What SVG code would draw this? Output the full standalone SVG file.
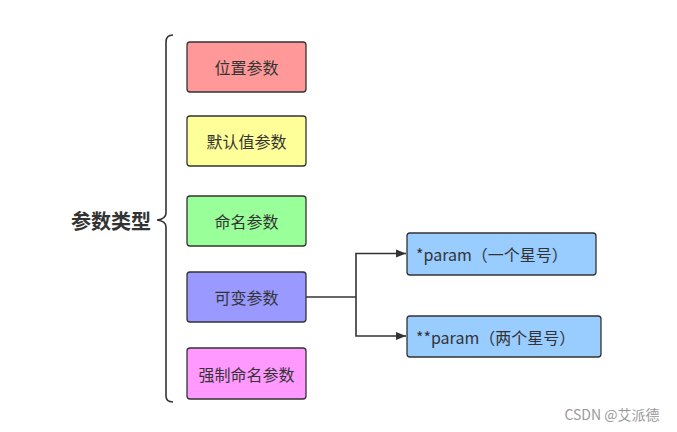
<svg xmlns="http://www.w3.org/2000/svg" width="677" height="432" viewBox="0 0 677 432">
<style>
.box{stroke:#333;stroke-width:1.3}
.t{font-family:"Noto Sans CJK SC","Liberation Sans",sans-serif;font-size:16px;fill:#333;dominant-baseline:central}
.c{text-anchor:middle}
.line{fill:none;stroke:#333;stroke-width:1.6}
</style>
<defs>
<marker id="ah" viewBox="0 0 10 10" refX="10" refY="5" markerWidth="10" markerHeight="10" markerUnits="userSpaceOnUse" orient="auto">
<path d="M0,1 L10,5 L0,9 Z" fill="#333"/>
</marker>
</defs>
<rect width="677" height="432" fill="#fff"/>
<g id="root">
<text x="111" y="220" class="t c" style="font-size:20px;font-weight:bold">参数类型</text>
<path class="line" d="M173,35 Q166,35 166,42 L166,213 Q166,219 157,220 Q166,221 166,227 L166,396 Q166,402 173,402" stroke-width="1.8"/>
</g>
<g id="n1"><rect class="box" x="187" y="42" width="119" height="50" rx="3" fill="#FF9999"/><text class="t c" x="246.5" y="67">位置参数</text></g>
<g id="n2"><rect class="box" x="187" y="116" width="119" height="50" rx="3" fill="#FFFF99"/><text class="t c" x="246.5" y="141">默认值参数</text></g>
<g id="n3"><rect class="box" x="187" y="196" width="119" height="50" rx="3" fill="#99FF99"/><text class="t c" x="246.5" y="221">命名参数</text></g>
<g id="n4"><rect class="box" x="187" y="272" width="119" height="50" rx="3" fill="#9999FF"/><text class="t c" x="246.5" y="297">可变参数</text></g>
<g id="n5"><rect class="box" x="187" y="348" width="119" height="51" rx="3" fill="#FF99FF"/><text class="t c" x="246.5" y="373.5">强制命名参数</text></g>
<g id="n6"><rect class="box" x="407" y="233" width="189" height="42" rx="3" fill="#99CCFF"/><text class="t" x="416" y="254">*param（一个星号）</text></g>
<g id="n7"><rect class="box" x="407" y="316" width="194" height="41" rx="3" fill="#99CCFF"/><text class="t" x="416" y="336.5">**param（两个星号）</text></g>
<g id="connectors">
<path class="line" d="M306,297 L356,297"/>
<path class="line" d="M356,297 L356,253.5 L406,253.5" marker-end="url(#ah)"/>
<path class="line" d="M356,297 L356,336 L406,336" marker-end="url(#ah)"/>
</g>
<text x="612" y="414" style="font-family:'Noto Sans CJK SC','Liberation Sans',sans-serif;font-size:14px;fill:#999;text-anchor:middle;dominant-baseline:central">CSDN @艾派德</text>
</svg>
